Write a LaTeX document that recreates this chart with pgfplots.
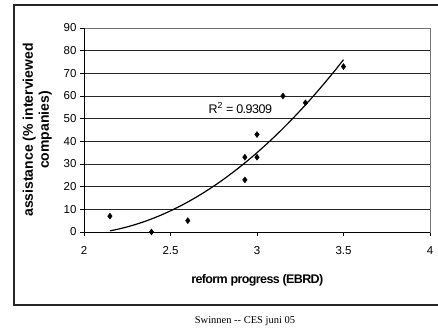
\documentclass[border=0pt]{standalone}
\usepackage{pgfplots}
\pgfplotsset{compat=1.18}
\usepackage{fontspec}
\setmainfont{Liberation Sans}
\newfontfamily\capfont{Liberation Serif}
\begin{document}
\begin{tikzpicture}[x=1pt,y=1pt]
\clip (0,0) rectangle (438,331);
\path[use as bounding box] (0,0) rectangle (438,331);
\draw[black!85, line width=1.3pt] (14,26) rectangle (460,326);
\node[font=\capfont\fontsize{10.5}{12}\selectfont] at (245,10) {Swinnen -{}- CES juni 05};
\begin{axis}[
  at={(84pt,99pt)}, anchor=south west,
  scale only axis, width=346pt, height=204pt,
  xmin=2, xmax=4, ymin=0, ymax=90,
  xtick={2,2.5,3,3.5,4}, ytick={0,10,...,90},
  xticklabels={2,2.5,3,3.5,4},
  axis line style={black!55, line width=0.8pt},
  ymajorgrids, grid style={black!85, line width=0.6pt},
  tick style={black, line width=0.6pt},
  tick align=outside, major tick length=4pt,
  xtick pos=bottom, ytick pos=left,
  /pgf/number format/assume math mode=true,
  ticklabel style={font=\fontsize{11.5}{13}\selectfont},
  xticklabel style={yshift=-7pt},
  xlabel={\textbf{reform progress (EBRD)}},
  xlabel style={at={(axis description cs:0.5,-0.235)}, anchor=center, font=\fontsize{12.5}{14}\selectfont\addfontfeature{LetterSpace=-5}},
  ylabel={\textbf{assistance (\% interviewed}\\\textbf{companies)}},
  ylabel style={at={(axis description cs:-0.135,0.5)}, anchor=center, rotate=0, align=center, font=\fontsize{14}{16}\selectfont},
  clip=false,
]
\draw[black, line width=0.9pt] (axis cs:2,0) -- (axis cs:4,0);
\draw[black, line width=0.9pt] (axis cs:2,0) -- (axis cs:2,90);
\addplot[only marks, mark=diamond*, mark size=3pt, black] coordinates {
 (2.15,7) (2.39,0) (2.6,5) (2.93,33) (2.93,23) (3.0,43) (3.0,33) (3.15,60) (3.28,57) (3.5,73)
};
\addplot[black, line width=1.2pt, smooth] coordinates {
 (2.15,0.5) (2.20,1.30) (2.25,2.26) (2.30,3.37) (2.35,4.63) (2.40,6.05) (2.45,7.61)
 (2.50,9.34) (2.55,11.21) (2.60,13.24) (2.65,15.43) (2.70,17.76) (2.75,20.25)
 (2.80,22.89) (2.85,25.69) (2.90,28.64) (2.95,31.74) (3.00,35.00) (3.05,38.41)
 (3.10,41.97) (3.15,45.69) (3.20,49.56) (3.25,53.58) (3.30,57.76) (3.35,62.09)
 (3.40,66.58) (3.45,71.21) (3.50,76.00)
};
\node[anchor=west, font=\fontsize{12.5}{14}\selectfont\addfontfeature{LetterSpace=-4}] at (axis cs:2.70,54.7) {R\textsuperscript{2} = 0.9309};
\end{axis}
\end{tikzpicture}
\end{document}
